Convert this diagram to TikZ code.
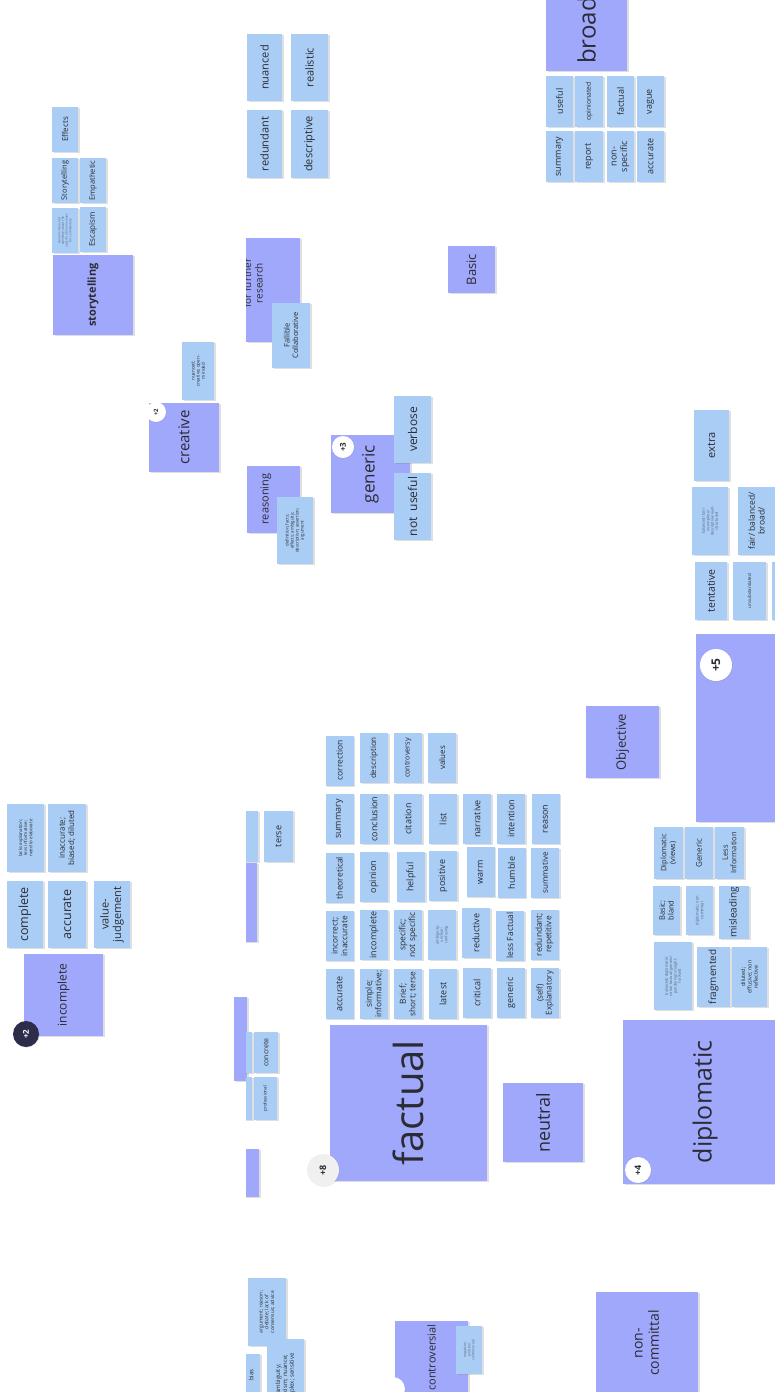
\documentclass[tikz,border=0pt]{standalone}
\usepackage{fontspec}
\setmainfont{Open Sans}
\usetikzlibrary{shadows}
\definecolor{noteblue}{HTML}{A9CDF5}
\definecolor{notepurple}{HTML}{A0A8FB}
\definecolor{ink}{HTML}{2B2B33}
\definecolor{faint}{HTML}{58627C}
\definecolor{navy}{HTML}{2D2D4B}

\begin{document}
\begin{tikzpicture}[x=1pt, y=-1pt,
    every node/.style={text=ink, inner sep=0pt, align=center},
    fs/.style={font=\linespread{1.15}\fontsize{#1}{#1}\selectfont},
    nsize/.style 2 args={minimum height=#1, minimum width=#2},
    note/.style={rotate=90, drop shadow={shadow xshift=1.5pt, shadow yshift=-1pt, opacity=0.25}},
    bnote/.style={note, fill=noteblue},
    pnote/.style={note, fill=notepurple},
    gnote/.style={bnote, nsize={28pt}{50pt}, fs=9},
    badge/.style={circle, fill=white, rotate=90, minimum size=#1, font=\bfseries\fontsize{8}{8}\selectfont,
        drop shadow={shadow xshift=0.8pt, shadow yshift=-0.8pt, opacity=0.15}}]
    \clip (0,0) rectangle (775,1392);

    % storytelling cluster
    \node[bnote, nsize={26pt}{45pt}, fs=8] (eff) at (65,129.5) {Effects};
    \node[bnote, nsize={26pt}{45pt}, fs=7.5] (stb) at (65,180.5) {Storytelling};
    \node[bnote, nsize={26pt}{45pt}, fs=7.5] (emp) at (93,180.5) {Empathetic};
    \node[bnote, nsize={26pt}{45pt}, fs=3.2, text=faint] (gid) at (65,230.5) {Generic ideas not\\speaking about the\\specific domain values\\for commentary};
    \node[bnote, nsize={26pt}{45pt}, fs=8] (esc) at (93,229.5) {Escapism};
    \node[pnote, nsize={80pt}{80pt}, font=\bfseries\fontsize{11}{11}\selectfont] (story) at (93,295) {storytelling};

    % top middle
    \node[bnote, nsize={35pt}{67pt}, fs=11] (nua) at (264.5,67.5) {nuanced};
    \node[bnote, nsize={37pt}{67pt}, fs=11] (rea) at (309.5,67.5) {realistic};
    \node[bnote, nsize={35pt}{68pt}, fs=11] (red) at (264.5,144) {redundant};
    \node[bnote, nsize={37pt}{68pt}, fs=11] (des) at (309.5,144) {descriptive};

    % further research
    \node[pnote, nsize={54pt}{104pt}] (ffr) at (273,290) {};
    \begin{scope}
        \clip (246,230) rectangle (320,350);
        \node[rotate=90, fs=10] (ffrtxt) at (253,283) {for further\\research};
    \end{scope}
    \node[bnote, nsize={38pt}{65pt}, fs=7.5] (fall) at (291,335.5) {Fallible\\Collaborative};

    % broad cluster
    \node[pnote, nsize={81pt}{81pt}, fs=24] (broad) at (586.5,30.5) {broad};
    \node[bnote, nsize={27pt}{51pt}, fs=9] (bu) at (559.5,101.5) {useful};
    \node[bnote, nsize={28pt}{51pt}, fs=6.8] (bo) at (589,101.5) {opinionated};
    \node[bnote, nsize={27pt}{51pt}, fs=9] (bf) at (620.5,101.5) {factual};
    \node[bnote, nsize={27pt}{51pt}, fs=9] (bv) at (650.5,101.5) {vague};
    \node[bnote, nsize={27pt}{51pt}, fs=9] (bs) at (559.5,156.5) {summary};
    \node[bnote, nsize={28pt}{51pt}, fs=9] (br) at (589,156.5) {report};
    \node[bnote, nsize={27pt}{51pt}, fs=9] (bn) at (620.5,156.5) {non-\\specific};
    \node[bnote, nsize={27pt}{51pt}, fs=9] (ba) at (650.5,156.5) {accurate};

    \node[pnote, nsize={47pt}{47pt}, fs=13] (basic) at (471.5,269.5) {Basic};

    % creative
    \node[bnote, nsize={32pt}{58pt}, fs=4.5] (ncr) at (198,371) {nuanced;\\creative; open-\\minded};
    \node[pnote, nsize={70pt}{69pt}, fs=15] (crea) at (184,437.5) {creative};
    \node[badge=20pt, font=\bfseries\fontsize{6}{6}\selectfont] (bcrea) at (156,412) {+2};

    % reasoning
    \node[pnote, nsize={53pt}{67pt}] (reas) at (273.5,499.5) {};
    \node[rotate=90, fs=11] (reastxt) at (266,499) {reasoning};
    \node[bnote, nsize={36pt}{67pt}, fs=4.3] (defn) at (295,530.5) {definition; facts;\\effects; ambiguity;\\description; assertion;\\argument};

    % generic
    \node[pnote, nsize={79pt}{78pt}, fs=17] (gnc) at (370.5,474) {generic};
    \node[bnote, nsize={37pt}{67pt}, fs=12] (verb) at (412.5,429.5) {verbose};
    \node[bnote, nsize={37pt}{67pt}, fs=12] (nuse) at (412.5,506.5) {not \ useful};
    \node[badge=22pt] (bgnc) at (343,447) {+3};

    % right cluster
    \node[bnote, nsize={35pt}{71pt}, fs=11] (extra) at (711.5,445.5) {extra};
    \node[bnote, nsize={36pt}{68pt}, fs=3.8, text=faint] (bfi) at (710,521) {balanced/ fair/\\incomplete/\\descriptive/ well-\\structured};
    \node[bnote, nsize={37pt}{68pt}, fs=8.5] (fbb) at (756.5,521) {fair/ balanced/\\broad/};
    \node[bnote, nsize={32pt}{58pt}, fs=10.5] (tent) at (711,591) {tentative};
    \node[bnote, nsize={33pt}{58pt}, fs=4.5] (unsub) at (749.5,591) {unsubstantiated};
    \node[bnote, nsize={33pt}{58pt}] (rx) at (788,591) {};
    \node[pnote, nsize={188pt}{188pt}] (five) at (790,728) {};
    \node[badge=32pt, font=\bfseries\fontsize{12}{12}\selectfont] (bfive) at (716,665) {+5};
    \node[pnote, nsize={73pt}{72pt}, fs=13] (obj) at (622.5,742) {Objective};

    % incomplete cluster
    \node[bnote, nsize={37pt}{68pt}, fs=4.5] (lack) at (25.5,838) {lacks explanation;\\less informative;\\need to elaborate};
    \node[bnote, nsize={38pt}{68pt}, fs=8] (inac) at (67,838) {inaccurate;\\biased; diluted};
    \node[bnote, nsize={36pt}{67pt}, fs=12.5] (comp) at (25,914.5) {complete};
    \node[bnote, nsize={38pt}{67pt}, fs=12.5] (accu) at (67,914.5) {accurate};
    \node[bnote, nsize={36pt}{67pt}, fs=11] (valj) at (112,914.5) {value-\\judgement};
    \node[pnote, nsize={79pt}{82pt}, fs=12] (inc) at (63.5,995) {incomplete};
    \node[badge=26pt, fill=navy, text=white] (binc) at (26,1034) {+2};

    % factual grid
    \node[gnote, fs=8.5] (g01) at (339.5,760.5) {correction};
    \node[gnote, fs=8] (g02) at (374,758) {description};
    \node[gnote, fs=7.3] (g03) at (408,758) {controversy};
    \node[gnote, fs=8] (g04) at (442,758) {values};
    \node[gnote] (g11) at (339.5,819) {summary};
    \node[gnote] (g12) at (374,819) {conclusion};
    \node[gnote] (g13) at (408,819) {citation};
    \node[gnote] (g14) at (443,819) {list};
    \node[gnote] (g15) at (477,819) {narrative};
    \node[gnote] (g16) at (511,819) {intention};
    \node[gnote] (g17) at (545.5,819) {reason};
    \node[gnote, fs=8.5] (g21) at (339.5,878) {theoretical};
    \node[gnote] (g22) at (374,877) {opinion};
    \node[gnote] (g23) at (411,877) {helpful};
    \node[gnote] (g24) at (443,876) {positive};
    \node[gnote] (g25) at (480.5,872) {warm};
    \node[gnote] (g26) at (511.5,873) {humble};
    \node[gnote, fs=8] (g27) at (545,873) {summative};
    \node[gnote, fs=8.3] (g31) at (339.5,936) {incorrect;\\inaccurate};
    \node[gnote] (g32) at (374,935) {incomplete};
    \node[gnote, fs=8.5] (g33) at (408,935) {specific;\\not specific};
    \node[gnote, fs=3.8, text=faint] (g34) at (442,935) {ambiguity;\\unclear;\\confusing};
    \node[gnote] (g35) at (476,933) {reductive};
    \node[gnote, fs=8.5] (g36) at (510,935.5) {less Factual};
    \node[gnote, fs=8.3] (g37) at (544.5,934.5) {redundant;\\repetitive};
    \node[gnote] (g41) at (339.5,994) {accurate};
    \node[gnote, fs=8.3] (g42) at (374,994) {simple;\\informative;};
    \node[gnote, fs=8.3] (g43) at (408,994) {Brief;\\short; terse};
    \node[gnote] (g44) at (443,994) {latest};
    \node[gnote] (g45) at (477,993) {critical};
    \node[gnote] (g46) at (511,993) {generic};
    \node[gnote, fs=8] (g47) at (545,993) {(self)\\Explanatory};

    % left strip
    \node[pnote, nsize={13pt}{84pt}] (lp2) at (240.5,1039) {};
    \begin{scope}
        \clip (246,750) rectangle (330,1392);
        \node[bnote, nsize={28pt}{51pt}] (lx1) at (244,836.5) {};
        \node[pnote, nsize={48pt}{79pt}] (lp1) at (233,902.5) {};
        \node[bnote, nsize={26pt}{41pt}] (lx2) at (239,1052.5) {};
        \node[bnote, nsize={26pt}{43pt}] (lx3) at (239,1098.5) {};
        \node[pnote, nsize={50pt}{48pt}] (lp3) at (234,1173) {};
        \node[bnote, nsize={38pt}{68pt}] (biasn) at (241,1388) {};
        \node[rotate=90, fs=6] (biast) at (251,1375) {bias};
    \end{scope}
    \node[bnote, nsize={29pt}{51pt}, fs=9] (terse) at (278.5,836.5) {terse};
    \node[bnote, nsize={24pt}{41pt}, fs=7] (conc) at (266,1052.5) {concrete};
    \node[bnote, nsize={23pt}{43pt}, fs=4.5] (prof) at (265.5,1098.5) {professional};

    % factual and neutral
    \node[pnote, nsize={157pt}{156pt}, fs=40] (fact) at (408.5,1103) {factual};
    \node[badge=32pt, fill=gray!12, font=\bfseries\fontsize{9}{9}\selectfont] (bfact) at (323,1170) {+8};
    \node[pnote, nsize={80pt}{79pt}, fs=18] (neut) at (543,1122.5) {neutral};

    % diplomatic cluster
    \node[bnote, nsize={29pt}{52pt}, fs=7.5] (dv) at (668.5,853) {Diplomatic\\(views)};
    \node[bnote, nsize={28pt}{52pt}, fs=8] (dg) at (699,853) {Generic};
    \node[bnote, nsize={29pt}{52pt}, fs=7.5] (dl) at (729.5,853) {Less\\Information};
    \node[bnote, nsize={27pt}{49pt}, fs=7.5] (db) at (666.5,910.5) {Basic;\\bland};
    \node[bnote, nsize={27pt}{49pt}, fs=4, text=faint] (dn) at (699.5,910.5) {diplomatic; non\\commital};
    \node[bnote, nsize={30pt}{53pt}, fs=10] (dm) at (734,912.5) {misleading};
    \node[bnote, nsize={38pt}{68pt}, fs=3.8, text=faint] (dbd) at (673,976) {balanced/ diplomatic/\\color/ factual/ generic/\\pandering/ straight-\\forward};
    \node[bnote, nsize={33pt}{60pt}, fs=10] (dfr) at (713.5,977) {fragmented};
    \node[bnote, nsize={35pt}{60pt}, fs=5.5] (ddi) at (749.5,977) {diluted;\\effusive; non\\reflective};
    \node[pnote, nsize={164pt}{164pt}, fs=25] (dipl) at (705,1102) {diplomatic};
    \node[badge=26pt, font=\bfseries\fontsize{9}{9}\selectfont] (bdipl) at (638,1170) {+4};

    % bottom row
    \node[bnote, nsize={38pt}{68pt}, fs=5] (argn) at (267,1312) {argument; reason;\\debate; lack of\\consensus; advice};
    \node[bnote, nsize={37pt}{80pt}, fs=6] (ambn) at (285.5,1379) {ambiguity;\\criticism; nuance;\\complex; sensitive};
    \node[pnote, nsize={73pt}{73pt}, fs=11] (contr) at (431.5,1357.5) {controversial};
    \node[bnote, nsize={26pt}{48pt}, fs=3.5, text=faint] (npc) at (469,1350) {negative/\\positive/\\controversial};
    \node[badge=24pt] (bcontr) at (393,1389) {};
    \node[pnote, nsize={102pt}{102pt}, fs=14] (noncom) at (647,1343) {non-\\committal};
\end{tikzpicture}
\end{document}
